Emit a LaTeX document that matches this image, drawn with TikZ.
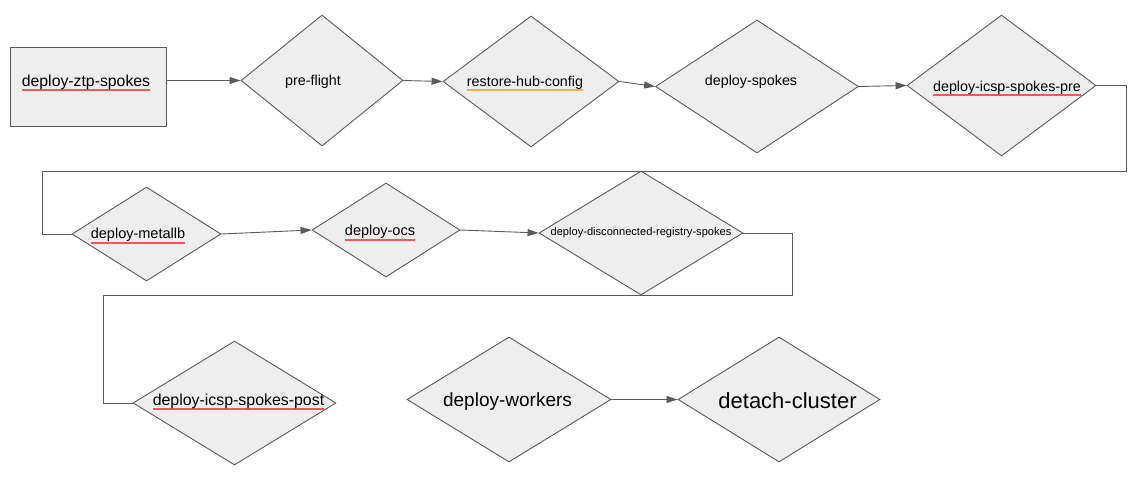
\documentclass[tikz,border=0pt]{standalone}
\usepackage{fontspec}
\setmainfont{Liberation Sans}
\usetikzlibrary{shapes.geometric,arrows.meta}
\definecolor{stagefill}{HTML}{EEEEEE}
\definecolor{stageline}{HTML}{5A5A5A}
\definecolor{spellred}{HTML}{EE5A5A}
\definecolor{spellorange}{HTML}{F2B045}
% spell-check style underline
\newcommand\wavy[2]{\sbox0{#2}\rlap{\color{#1}\rule[-5pt]{\wd0}{2pt}}\usebox0}
% text with a small offset inside its shape
\newcommand\stagetext[3]{\makebox[0pt]{\kern#1\relax\raisebox{#2}{#3}}}

\begin{document}
\begin{tikzpicture}[
x=1pt, y=-1pt,
stage/.style={
	diamond, draw=stageline, fill=stagefill,
	line width=0.9pt, inner sep=0pt,
	text height=10pt, text depth=0pt,
	font=\fontsize{14.3}{17}\selectfont
},
entry/.style={
	rectangle, draw=stageline, fill=stagefill,
	line width=0.9pt, inner sep=0pt,
	text height=10pt, text depth=0pt,
	font=\fontsize{15.8}{19}\selectfont
},
link/.style={draw=stageline, line width=0.9pt},
>={Triangle[length=11pt,width=7pt]}
]
\useasboundingbox (0,0) rectangle (1131,478);

\node[entry, minimum width=156, minimum height=79] (0) at (88,86.5)
	{\stagetext{-4pt}{5pt}{\wavy{spellred}{deploy-ztp-spokes}}};
\node[stage, minimum width=162, minimum height=131] (1) at (322,80.5)
	{\stagetext{-18pt}{0pt}{pre-flight}};
\node[stage, minimum width=176, minimum height=131] (2) at (531,81.5)
	{\stagetext{-12pt}{0pt}{\wavy{spellorange}{restore-hub-config}}};
\node[stage, minimum width=203, minimum height=133] (3) at (757,86.5)
	{\stagetext{-12pt}{5.5pt}{deploy-spokes}};
\node[stage, minimum width=189, minimum height=141] (4) at (1001.5,85.5)
	{\stagetext{11pt}{-1pt}{\wavy{spellred}{deploy-icsp-spokes-pre}}};

\node[stage, minimum width=149, minimum height=94,
	font=\fontsize{14.5}{17}\selectfont] (5) at (146.5,234)
	{\stagetext{-17pt}{0pt}{\wavy{spellred}{deploy-metallb}}};
\node[stage, minimum width=148, minimum height=94,
	font=\fontsize{14.5}{17}\selectfont] (6) at (386,230)
	{\stagetext{-12pt}{-1pt}{\wavy{spellred}{deploy-ocs}}};
\node[stage, minimum width=204, minimum height=124,
	font=\fontsize{11.1}{13}\selectfont] (7) at (641,233)
	{\stagetext{0pt}{2pt}{deploy-disconnected-registry-spokes}};

\node[stage, minimum width=203, minimum height=124,
	font=\fontsize{15.9}{19}\selectfont] (8) at (234.5,403)
	{\stagetext{8pt}{3pt}{\wavy{spellred}{deploy-icsp-spokes-post}}};
\node[stage, minimum width=204, minimum height=125,
	font=\fontsize{19}{23}\selectfont] (9) at (509,399.5)
	{\stagetext{-3pt}{-1.5pt}{deploy-workers}};
\node[stage, minimum width=202, minimum height=125,
	font=\fontsize{22}{26}\selectfont] (10) at (779,399.5)
	{\stagetext{17pt}{-4pt}{detach-cluster}};

% turning points of the long connectors
\coordinate (r1) at (1126,171);
\coordinate (l1) at (42,171);
\coordinate (r2) at (792,295);
\coordinate (l2) at (103,295);

\draw[link,->] (0.east |- 1.west) -- (1.west);
\foreach \a/\b in {1/2,2/3,3/4,5/6,6/7,9/10}
{
	\draw[link,->] (\a.east) -- (\b.west);
}
\draw[link] (4.east) -| (r1) -- (l1) |- (5.west);
\draw[link] (7.east) -| (r2) -- (l2) |- (8.west);
\end{tikzpicture}
\end{document}
